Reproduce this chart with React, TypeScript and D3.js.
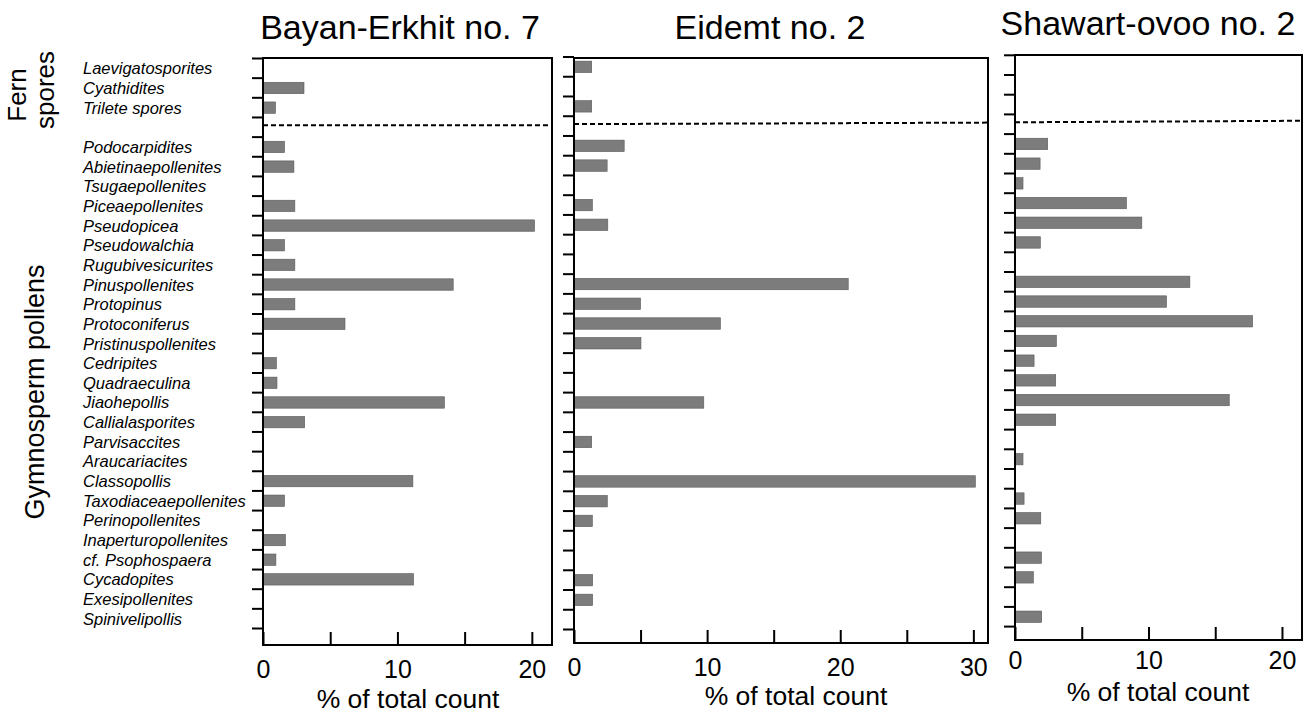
import React, { useEffect, useRef } from 'react';
import * as d3 from 'd3';

// taxa, top to bottom (a blank row separates the two groups)
const fernTaxa = ['Laevigatosporites', 'Cyathidites', 'Trilete spores'];
const gymnoTaxa = [
  'Podocarpidites', 'Abietinaepollenites', 'Tsugaepollenites', 'Piceaepollenites',
  'Pseudopicea', 'Pseudowalchia', 'Rugubivesicurites', 'Pinuspollenites', 'Protopinus',
  'Protoconiferus', 'Pristinuspollenites', 'Cedripites', 'Quadraeculina', 'Jiaohepollis',
  'Callialasporites', 'Parvisaccites', 'Araucariacites', 'Classopollis',
  'Taxodiaceaepollenites', 'Perinopollenites', 'Inaperturopollenites', 'cf. Psophospaera',
  'Cycadopites', 'Exesipollenites', 'Spinivelipollis',
];
const GAP = '__gap';

// % of total count per site
const bayanFern = [0, 3.05, 0.93];
const bayanGymno = [1.6, 2.3, 0, 2.37, 20.2, 1.6, 2.37, 14.15, 2.37, 6.1, 0, 1.0, 1.04, 13.5, 3.1, 0, 0, 11.15, 1.6, 0, 1.67, 0.96, 11.2, 0, 0];

const eidemtFern = [1.33, 0, 1.33];
const eidemtGymno = [3.77, 2.49, 0, 1.38, 2.54, 0, 0, 20.6, 5.0, 11.0, 5.03, 0, 0, 9.75, 0, 1.33, 0, 30.15, 2.5, 1.38, 0, 0, 1.4, 1.4, 0];

const shawartFern = [0, 0, 0];
const shawartGymno = [2.45, 1.88, 0.6, 8.35, 9.5, 1.9, 0, 13.1, 11.35, 17.8, 3.1, 1.43, 3.05, 16.05, 3.05, 0, 0.6, 0, 0.68, 1.93, 0, 1.98, 1.38, 0, 2.0];

const siteNames = ['Bayan-Erkhit no. 7', 'Eidemt no. 2', 'Shawart-ovoo no. 2'];
const xTicks20 = [0, 5, 10, 15, 20];
const xTicks30 = [0, 5, 10, 15, 20, 25, 30];

const FONT = 'Liberation Sans, Arial, Helvetica, sans-serif';

const App = () => {
  const svgRef = useRef(null);

  useEffect(() => {
    const svg = d3.select(svgRef.current);
    svg.selectAll('*').remove();

    const slots = [...fernTaxa, GAP, ...gymnoTaxa];

    const panels = [
      { name: siteNames[0], fern: bayanFern, gymno: bayanGymno, ticks: xTicks20, xMax: 21.5,
        left: 263, right: 552, top: 58, bottom: 645, bandTop: 58.5, bandBottom: 628.5,
        titleX: 400, titleY: 39, pad: 15, axisTitleX: 408, axisTitleY: 708, dashEnd: 552 },
      { name: siteNames[1], fern: eidemtFern, gymno: eidemtGymno, ticks: xTicks30, xMax: 31.1,
        left: 574, right: 988, top: 58, bottom: 643, bandTop: 57, bandBottom: 629.5,
        titleX: 770, titleY: 39, pad: 15, axisTitleX: 796, axisTitleY: 705, dashEnd: 988 },
      { name: siteNames[2], fern: shawartFern, gymno: shawartGymno, ticks: xTicks20, xMax: 21.5,
        left: 1015, right: 1302, top: 55, bottom: 640, bandTop: 55.3, bandBottom: 626.6,
        titleX: 1148, titleY: 35, pad: 11, axisTitleX: 1158, axisTitleY: 701, dashEnd: 1302 },
    ];

    panels.forEach((p, pi) => {
      const values = [...p.fern, 0, ...p.gymno];
      const rows = slots.map((s, i) => ({ name: s, value: values[i] }));

      const x = d3.scaleLinear().domain([0, p.xMax]).range([p.left, p.right]);
      const y = d3
        .scaleBand()
        .domain(slots)
        .range([p.bandTop, p.bandBottom])
        .paddingInner(0.42)
        .paddingOuter(0.21);

      const g = svg.append('g');

      // bars
      g.selectAll('.bar')
        .data(rows.filter(d => d.value > 0))
        .join('rect')
        .attr('class', 'bar')
        .attr('x', x(0))
        .attr('y', d => y(d.name))
        .attr('width', d => x(d.value) - x(0))
        .attr('height', y.bandwidth())
        .attr('fill', '#7c7c7c')
        .attr('stroke', '#5a5a5a')
        .attr('stroke-width', 0.6);

      // frame
      g.append('rect')
        .attr('x', p.left)
        .attr('y', p.top)
        .attr('width', p.right - p.left)
        .attr('height', p.bottom - p.top)
        .attr('fill', 'none')
        .attr('stroke', '#000')
        .attr('stroke-width', 2);

      // ticks on the left, at row boundaries
      const bounds = d3.range(slots.length + 1).map(i => y.range()[0] + i * y.step());
      g.selectAll('.ytick')
        .data(bounds)
        .join('line')
        .attr('class', 'ytick')
        .attr('x1', p.left - 11)
        .attr('x2', p.left)
        .attr('y1', d => d)
        .attr('y2', d => d)
        .attr('stroke', '#000')
        .attr('stroke-width', 2);

      // dashed separator between fern spores and gymnosperm pollens
      const gapY = y.range()[0] + 3 * y.step() + y.step() * 0.4;
      g.append('line')
        .attr('x1', p.left)
        .attr('x2', p.dashEnd)
        .attr('y1', gapY)
        .attr('y2', gapY - (pi === 0 ? 0 : 1.5))
        .attr('stroke', '#000')
        .attr('stroke-width', 2)
        .attr('stroke-dasharray', '5,3');

      // x axis, ticks pointing inward
      const xAxis = d3
        .axisBottom(x)
        .tickValues(p.ticks)
        .tickSizeInner(-13)
        .tickSizeOuter(0)
        .tickPadding(p.pad)
        .tickFormat(d => (+d % 10 === 0 ? String(d) : ''));

      const ax = g.append('g').attr('transform', `translate(0, ${p.bottom})`).call(xAxis);
      ax.select('.domain').remove();
      ax.selectAll('line').attr('stroke', '#000').attr('stroke-width', 2);
      ax.selectAll('text')
        .attr('font-size', 25)
        .attr('font-family', FONT)
        .attr('fill', '#000');

      g.append('text')
        .attr('x', p.axisTitleX)
        .attr('y', p.axisTitleY)
        .attr('text-anchor', 'middle')
        .attr('font-size', 26.5)
        .attr('font-family', FONT)
        .text('% of total count');

      // site title
      g.append('text')
        .attr('x', p.titleX)
        .attr('y', p.titleY)
        .attr('text-anchor', 'middle')
        .attr('font-size', 34)
        .attr('font-family', FONT)
        .text(p.name);

      // taxon names only next to the first panel
      if (pi === 0) {
        g.selectAll('.taxon')
          .data(slots.filter(s => s !== GAP))
          .join('text')
          .attr('class', 'taxon')
          .attr('x', 83)
          .attr('y', d => y(d) + y.bandwidth() / 2)
          .attr('dominant-baseline', 'central')
          .attr('font-size', 16.5)
          .attr('font-style', 'italic')
          .attr('font-family', FONT)
          .text(d => d);
      }
    });

    // group labels
    const groupLabels = [
      { text: 'Fern', x: 26, y: 95, size: 26 },
      { text: 'spores', x: 54, y: 90, size: 26 },
      { text: 'Gymnosperm pollens', x: 44, y: 392, size: 27 },
    ];
    svg
      .selectAll('.group')
      .data(groupLabels)
      .join('text')
      .attr('class', 'group')
      .attr('transform', d => `translate(${d.x}, ${d.y}) rotate(-90)`)
      .attr('text-anchor', 'middle')
      .attr('font-size', d => d.size)
      .attr('font-family', FONT)
      .text(d => d.text);
  }, []);

  return (
    <svg
      ref={svgRef}
      width={1311}
      height={714}
      style={{ position: 'absolute', left: 0, top: 0, background: '#fff' }}
    />
  );
};

export default App;
